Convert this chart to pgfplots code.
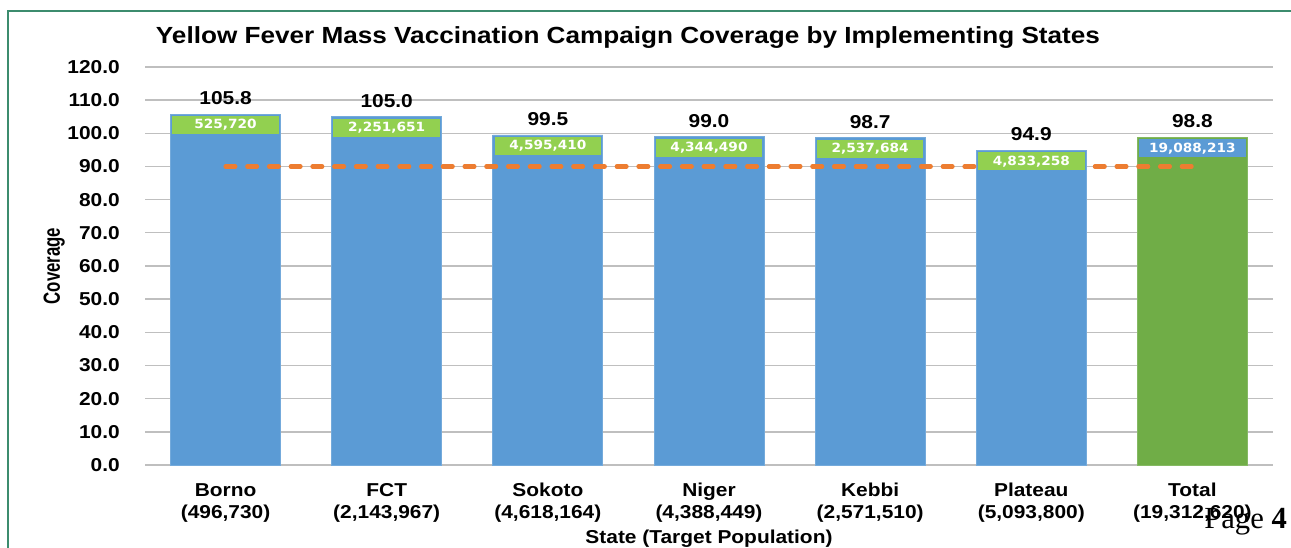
\documentclass[border=0pt]{standalone}
\usepackage{pgfplots}
\pgfplotsset{compat=1.18}
\usepackage{pgfplotstable}
\usepackage{fontspec}
\setmainfont{Liberation Sans}[FakeStretch=1.12]
\newfontfamily\boxfont{DejaVu Sans}[FakeStretch=1.08]
\newfontfamily\ylabfont{Liberation Sans}[FakeStretch=0.72]
\newfontfamily\pagefont{Liberation Serif}
\definecolor{barblue}{HTML}{5B9BD5}
\definecolor{boxgreen}{HTML}{92D050}
\definecolor{totalgreen}{HTML}{70AD47}
\definecolor{orangeline}{HTML}{ED7D31}
\definecolor{gridgray}{HTML}{BFBFBF}
\definecolor{framegreen}{HTML}{3C8C6E}

\pgfplotstableread{
x y cov count
0 105.8 105.8 525,720
1 105.0 105.0 2,251,651
2 99.5 99.5 4,595,410
3 99.0 99.0 4,344,490
4 98.7 98.7 2,537,684
5 94.9 94.9 4,833,258
}\states
\pgfplotstableread{
x y cov count
6 98.8 98.8 19,088,213
}\total

\begin{document}
\begin{tikzpicture}
\useasboundingbox (0,0) rectangle (968.25pt,-411pt);
\fill[white] (0,0) rectangle (968.25pt,-411pt);
\draw[framegreen, line width=1.5pt] (6pt,-411pt) -- (6pt,-8pt) -- (968.25pt,-8pt);
\begin{axis}[
  at={(108.75pt,-348.75pt)}, anchor=south west,
  scale only axis, width=846pt, height=298.5pt,
  xmin=-0.5, xmax=6.5, ymin=0, ymax=120,
  ytick={0,10,...,120},
  xtick={0,...,6},
  xticklabels={{Borno\\(496,730)},{FCT\\(2,143,967)},{Sokoto\\(4,618,164)},{Niger\\(4,388,449)},{Kebbi\\(2,571,510)},{Plateau\\(5,093,800)},{Total\\(19,312,620)}},
  ymajorgrids, grid style={gridgray, line width=1pt},
  axis line style={draw=none},
  major tick length=0pt,
  tick style={draw=none},
  clip=false,
  xticklabel style={font=\fontsize{14}{16.5}\selectfont\bfseries, align=center, anchor=north, inner sep=0pt, yshift=-13.5pt},
  yticklabel style={font=\fontsize{14}{16}\selectfont\bfseries, anchor=east, inner sep=0pt, xshift=-18.75pt, /pgf/number format/.cd, fixed, fixed zerofill, precision=1, assume math mode=true},
  xlabel={State (Target Population)},
  every axis x label/.style={at={(axis description cs:0.5,0)}, anchor=base, yshift=-58.5pt, font=\fontsize{14}{16}\selectfont\bfseries},
  ylabel={Coverage},
  every axis y label/.style={at={(axis description cs:0,0.5)}, rotate=90, anchor=base, yshift=63.75pt, font=\ylabfont\fontsize{17.5}{19}\selectfont\bfseries},
]
\addplot[ybar, bar width=82.5pt, bar shift=0pt, fill=barblue, draw=barblue!85!white, line width=0.6pt,
  nodes near coords, point meta=explicit symbolic,
  every node near coord/.append style={font=\fontsize{14}{16}\selectfont\bfseries, inner sep=0pt, yshift=6.75pt, text=black}]
  table[x=x, y=y, meta=cov] {\states};
\addplot[ybar, bar width=82.5pt, bar shift=0pt, fill=totalgreen, draw=totalgreen!85!white, line width=0.6pt,
  nodes near coords, point meta=explicit symbolic,
  every node near coord/.append style={font=\fontsize{14}{16}\selectfont\bfseries, inner sep=0pt, yshift=6.75pt, text=black}]
  table[x=x, y=y, meta=cov] {\total};
\addplot[draw=orangeline, line width=3.2pt, line cap=round, dash pattern=on 7.3pt off 9pt, mark=none, forget plot] coordinates {(0,90) (6,90)};
\addplot[ybar, bar width=82.5pt, bar shift=0pt, draw=none, fill=none,
  nodes near coords, point meta=explicit symbolic,
  every node near coord/.append style={fill=boxgreen, text=white, font=\boxfont\fontsize{9.5}{10}\selectfont\bfseries, minimum width=80pt, minimum height=13.5pt, inner sep=0pt, yshift=-15.2pt}]
  table[x=x, y=y, meta=count] {\states};
\addplot[ybar, bar width=82.5pt, bar shift=0pt, draw=none, fill=none,
  nodes near coords, point meta=explicit symbolic,
  every node near coord/.append style={fill=barblue, text=white, font=\boxfont\fontsize{9.5}{10}\selectfont\bfseries, minimum width=80pt, minimum height=13.5pt, inner sep=0pt, yshift=-15.2pt}]
  table[x=x, y=y, meta=count] {\total};
\end{axis}
\node[anchor=base, inner sep=0pt, font=\fontsize{17.5}{20}\selectfont\bfseries] at (471pt,-32.6pt) {Yellow Fever Mass Vaccination Campaign Coverage by Implementing States};
\node[anchor=base west, inner sep=0pt, font=\pagefont\fontsize{23}{25}\selectfont] at (903pt,-396pt) {Page \textbf{4}};
\end{tikzpicture}
\end{document}
